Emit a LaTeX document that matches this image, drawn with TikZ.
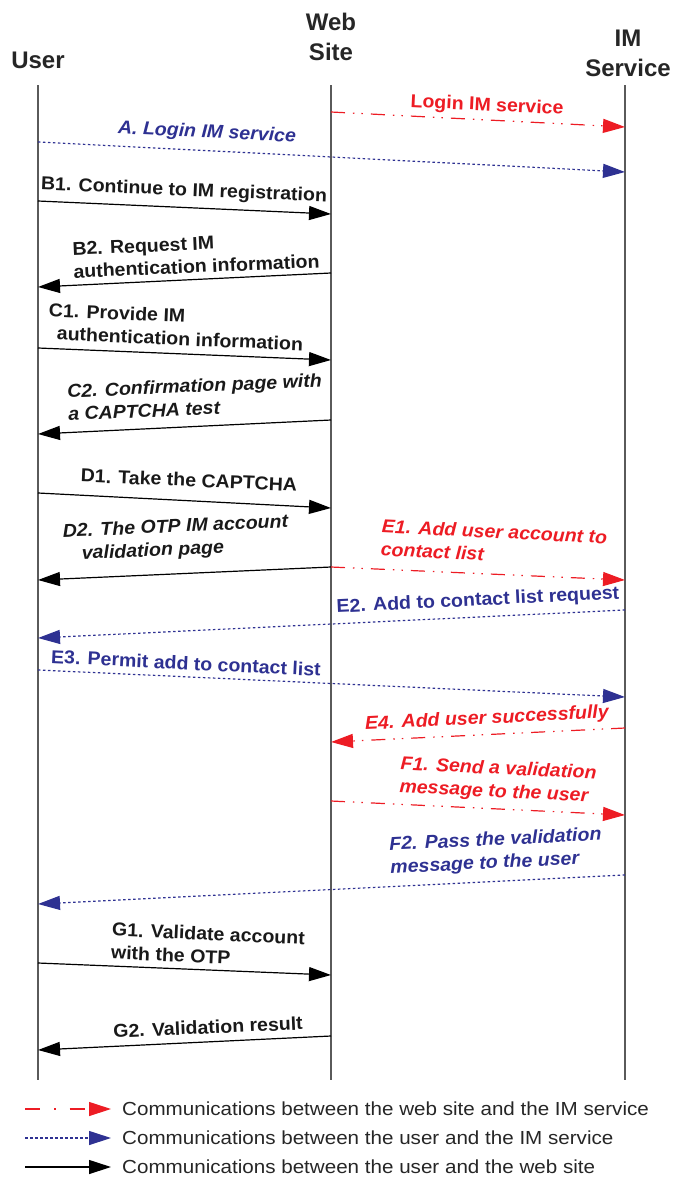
\documentclass[tikz,border=0pt]{standalone}
\usepackage{fontspec}
\setmainfont{Liberation Sans}
\newfontfamily\labfont[FakeStretch=1.05]{Liberation Sans}
\newfontfamily\legfont[FakeStretch=1.09]{Liberation Sans}
\usetikzlibrary{arrows.meta}
\definecolor{myred}{HTML}{ED1C24}
\definecolor{myblue}{HTML}{2E3192}
\definecolor{lifegray}{HTML}{5A5A5A}
\tikzset{
  head/.style={font=\bfseries\fontsize{24}{30}\selectfont, align=center, inner sep=0pt, text=black!85},
  life/.style={draw=lifegray, line width=1.5pt},
  msg/.style={line width=1.2pt, -{Triangle[length=22pt,width=14pt]}},
  wimsg/.style={msg, myred, dash pattern=on 14pt off 8pt on 1.5pt off 7pt on 1.5pt off 8pt},
  uimsg/.style={msg, myblue, dash pattern=on 2.5pt off 2.5pt},
  uwmsg/.style={msg, black},
  lab/.style={font=\labfont\fontsize{18.6}{23}\selectfont\bfseries, align=left, inner sep=0pt},
  labi/.style={font=\labfont\fontsize{18.6}{23}\selectfont\bfseries\itshape, align=left, inner sep=0pt},
  leg/.style={font=\legfont\fontsize{18.9}{22}\selectfont, anchor=west, inner sep=0pt, text=black!85},
}
\begin{document}
\begin{tikzpicture}[x=1pt,y=-1pt]
\useasboundingbox (0,0) rectangle (672,1178);
% headers
\node[head] (hu) at (38,60) {User};
\node[head] (hw) at (331,37) {Web\\Site};
\node[head] (hi) at (628,53) {IM\\Service};
% lifelines
\coordinate (ut) at (38,85);  \coordinate (ub) at (38,1080);
\coordinate (wt) at (331,85); \coordinate (wb) at (331,1080);
\coordinate (it) at (625,85); \coordinate (ib) at (625,1080);
\draw[life] (ut) -- (ub);
\draw[life] (wt) -- (wb);
\draw[life] (it) -- (ib);
% message end points
\coordinate (w1) at (331,112);  \coordinate (i1) at (625,127);
\coordinate (u2) at (38,142);   \coordinate (i2) at (625,172);
\coordinate (u3) at (38,201);   \coordinate (w3) at (331,214);
\coordinate (w4) at (331,273);  \coordinate (u4) at (38,287);
\coordinate (u5) at (38,348);   \coordinate (w5) at (331,360);
\coordinate (w6) at (331,420);  \coordinate (u6) at (38,434);
\coordinate (u7) at (38,493);   \coordinate (w7) at (331,508);
\coordinate (w8) at (331,567);  \coordinate (u8) at (38,580);
\coordinate (i9) at (625,580);
\coordinate (i10) at (625,610); \coordinate (u10) at (38,638);
\coordinate (u11) at (38,670);  \coordinate (i11) at (625,697);
\coordinate (i12) at (625,728); \coordinate (w12) at (331,742);
\coordinate (w13) at (331,801); \coordinate (i13) at (625,815);
\coordinate (i14) at (625,875); \coordinate (u14) at (38,904);
\coordinate (u15) at (38,963);  \coordinate (w15) at (331,975);
\coordinate (w16) at (331,1036);\coordinate (u16) at (38,1050);
% messages
\draw[wimsg] (w1) -- (i1);
\draw[uimsg] (u2) -- (i2);
\draw[uwmsg] (u3) -- (w3);
\draw[uwmsg] (w4) -- (u4);
\draw[uwmsg] (u5) -- (w5);
\draw[uwmsg] (w6) -- (u6);
\draw[uwmsg] (u7) -- (w7);
\draw[uwmsg] (w8) -- (u8);
\draw[wimsg] (w8) -- (i9);
\draw[uimsg] (i10) -- (u10);
\draw[uimsg] (u11) -- (i11);
\draw[wimsg] (i12) -- (w12);
\draw[wimsg] (w13) -- (i13);
\draw[uimsg] (i14) -- (u14);
\draw[uwmsg] (u15) -- (w15);
\draw[uwmsg] (w16) -- (u16);
% labels
\node[lab, text=myred, rotate=-2.8] (l1) at (487,106) {Login IM service};
\node[labi, text=myblue, rotate=-2.8] (l2) at (207,133) {A. Login IM service};
\node[lab, text=black!90, rotate=-2.5] (l3) at (184,191) {B1. Continue to IM registration};
\node[lab, text=black!90, rotate=2.5] (l4) at (196,255) {B2. Request IM\\authentication information};
\node[lab, text=black!90, rotate=-2.5] (l5) at (176,327) {C1. Provide IM\\\hspace*{9pt}authentication information};
\node[labi, text=black!90, rotate=2.5] (l6) at (195,397) {C2. Confirmation page with\\a CAPTCHA test};
\node[lab, text=black!90, rotate=-2.5] (l7) at (189,480) {D1. Take the CAPTCHA};
\node[labi, text=black!90, rotate=2.5] (l8) at (176,539) {D2. The OTP IM account\\\hspace*{18pt}validation page};
\node[labi, text=myred, rotate=-2.8] (l9) at (494,543) {E1. Add user account to\\contact list};
\node[lab, text=myblue, rotate=2.8] (l10) at (478,601) {E2. Add to contact list request};
\node[lab, text=myblue, rotate=-2.8] (l11) at (186,663) {E3. Permit add to contact list};
\node[labi, text=myred, rotate=2.8] (l12) at (487,719) {E4. Add user successfully};
\node[labi, text=myred, rotate=-2.8] (l13) at (498,781) {F1. Send a validation\\message to the user};
\node[labi, text=myblue, rotate=2.8] (l14) at (496,852) {F2. Pass the validation\\message to the user};
\node[lab, text=black!90, rotate=-2.5] (l15) at (208,945) {G1. Validate account\\with the OTP};
\node[lab, text=black!90, rotate=2.5] (l16) at (208,1027) {G2. Validation result};
% legend
\coordinate (a1) at (25,1109); \coordinate (b1) at (111,1109);
\coordinate (a2) at (25,1138); \coordinate (b2) at (111,1138);
\coordinate (a3) at (25,1167); \coordinate (b3) at (111,1167);
\draw[msg, myred, dash pattern=on 15pt off 14pt on 1.5pt off 14pt] (a1) -- (b1);
\draw[uimsg] (a2) -- (b2);
\draw[uwmsg] (a3) -- (b3);
\node[leg] (t1) at (122,1109) {Communications between the web site and the IM service};
\node[leg] (t2) at (122,1138) {Communications between the user and the IM service};
\node[leg] (t3) at (122,1167) {Communications between the user and the web site};
\end{tikzpicture}
\end{document}
